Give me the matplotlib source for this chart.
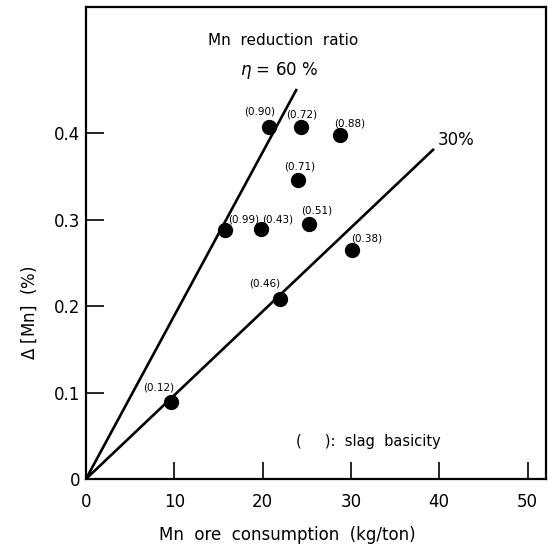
import matplotlib
matplotlib.use("Agg")
import matplotlib.pyplot as plt

# data
ore = [9.6, 15.7, 19.8, 20.7, 22.0, 24.0, 24.3, 25.3, 28.8, 30.1]
dmn = [0.089, 0.288, 0.289, 0.407, 0.208, 0.346, 0.407, 0.295, 0.398, 0.265]
basicity = ["0.12", "0.99", "0.43", "0.90", "0.46", "0.71", "0.72", "0.51", "0.88", "0.38"]

# reduction ratio lines (from origin)
eta60_x = [0, 23.8]
eta60_y = [0, 0.450]
eta30_x = [0, 39.3]
eta30_y = [0, 0.381]

xticks = [10, 20, 30, 40, 50]
yticks = [0.1, 0.2, 0.3, 0.4]

# label offsets in pixels (dx, dy)
lab_off = [(-12, 15), (19, 11), (17, 10), (-9, 16), (-16, 16),
           (2, 14), (1, 13), (7, 14), (9, 12), (15, 12)]

fig = plt.figure(figsize=(5.53, 5.55), dpi=100)
ax = fig.add_axes([0.1555, 0.137, 0.832, 0.850])

ax.plot(eta60_x, eta60_y, "-k", lw=1.9)
ax.plot(eta30_x, eta30_y, "-k", lw=1.9)
ax.plot(ore, dmn, "ok", ms=10)

for x, y, b, (dx, dy) in zip(ore, dmn, basicity, lab_off):
    ax.annotate("(" + b + ")", (x, y), xytext=(dx, dy), textcoords="offset pixels",
                ha="center", va="center", fontsize=7.5)

ax.text(22.3, 0.508, "Mn  reduction  ratio", ha="center", va="center", fontsize=11)
ax.text(21.9, 0.473, r"$\eta$ = 60 %", ha="center", va="center", fontsize=12)
ax.text(41.9, 0.392, "30%", ha="center", va="center", fontsize=12)
ax.text(23.8, 0.043, "(     ):  slag  basicity", ha="left", va="center", fontsize=10.5)

ax.set_xlim(0, 52.1)
ax.set_ylim(0, 0.546)

ax.set_xticks([0] + xticks)
ax.set_xticklabels(["0"] + [str(t) for t in xticks])
ax.set_yticks([0] + yticks)
ax.set_yticklabels(["0"] + [str(t) for t in yticks])
ax.tick_params(axis="x", direction="in", length=12, width=1.2, pad=10, labelsize=12)
ax.tick_params(axis="y", direction="in", length=13, width=1.2, pad=4, labelsize=12)

for s in ax.spines.values():
    s.set_linewidth(1.6)

fig.text(0.52, 0.036, "Mn  ore  consumption  (kg/ton)", ha="center", va="center", fontsize=12)
fig.text(0.052, 0.436, r"$\Delta$ [Mn]  (%)", ha="center", va="center", rotation=90, fontsize=12)

fig.savefig("out.png", dpi=100)
